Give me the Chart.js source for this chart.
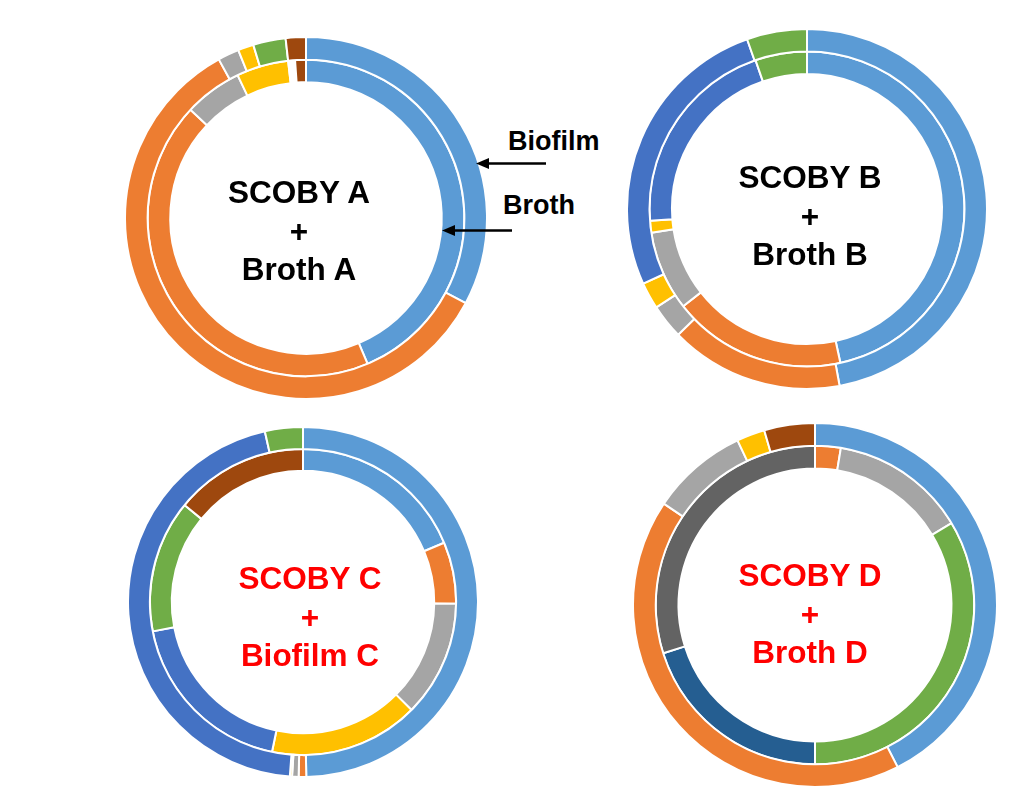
<!DOCTYPE html>
<html>
<head>
<meta charset="utf-8">
<script src="https://cdn.jsdelivr.net/npm/chart.js@4.4.0/dist/chart.umd.min.js"></script>
<style>
  html, body { margin: 0; padding: 0; background: #fff; }
  body { width: 1014px; height: 807px; position: relative; overflow: hidden; font-family: "Liberation Sans", Arial, sans-serif; }
  .anneau { position: absolute; }
  .centre { position: absolute; width: 240px; text-align: center; font-weight: bold; font-size: 31.5px; line-height: 38.5px; color: #000; }
  .rouge { color: #FF0000; }
  .tag { position: absolute; font-weight: bold; font-size: 27px; line-height: 27px; color: #000; white-space: nowrap; }
  svg { position: absolute; left: 0; top: 0; }
</style>
</head>
<body>

<div class="anneau" id="boxA"><canvas id="anneauA"></canvas></div>
<div class="anneau" id="boxB"><canvas id="anneauB"></canvas></div>
<div class="anneau" id="boxC"><canvas id="anneauC"></canvas></div>
<div class="anneau" id="boxD"><canvas id="anneauD"></canvas></div>

<div class="centre" style="left:179px; top:173px;">SCOBY A<br>+<br>Broth A</div>
<div class="centre" style="left:690px; top:158px;">SCOBY B<br>+<br>Broth B</div>
<div class="centre rouge" style="left:190px; top:559px;">SCOBY C<br>+<br>Biofilm C</div>
<div class="centre rouge" style="left:690px; top:556px;">SCOBY D<br>+<br>Broth D</div>

<div class="tag" style="left:508px; top:128px;">Biofilm</div>
<div class="tag" style="left:503px; top:192px;">Broth</div>

<svg width="1014" height="807">
  <line x1="546" y1="163.5" x2="486" y2="163.5" stroke="#000" stroke-width="2.5"/>
  <polygon points="476,163.5 489,158 489,169" fill="#000"/>
  <line x1="512" y1="230.5" x2="452" y2="230.5" stroke="#000" stroke-width="2.5"/>
  <polygon points="442,230.5 455,225 455,236" fill="#000"/>
</svg>

<script>
// Catégories (ordre des couleurs Office), "Non assigné" = vide sans remplissage
const taxons = ["Taxon 1", "Taxon 2", "Taxon 3", "Taxon 4", "Taxon 5", "Taxon 6", "Taxon 7", "Non assigné", "Taxon 8", "Taxon 9"];
const couleurs = ["#5B9BD5", "#ED7D31", "#A5A5A5", "#FFC000", "#4472C4", "#70AD47", "#255E91", "#FFFFFF", "#9E480E", "#636363"];

// Anneau extérieur = Biofilm, anneau intérieur = Broth (en %)
const outerA = [32.8, 59.2, 1.9, 1.4, 0, 2.9, 0, 0, 1.8, 0];
const innerA = [43.6, 43.3, 5.9, 5.3, 0, 0, 0, 0.7, 1.1, 0];
const outerB = [47.1, 15.6, 3.1, 2.4, 26.4, 5.4, 0, 0, 0, 0];
const innerB = [46.6, 17.8, 8.2, 1.2, 20.9, 5.3, 0, 0, 0, 0];
const outerC = [49.7, 0.7, 0.6, 0.2, 45.3, 3.5, 0, 0, 0, 0];
const innerC = [18.7, 6.5, 12.3, 15.8, 18.7, 14.0, 0, 0, 14.1, 0];
const outerD = [42.5, 41.9, 8.6, 2.5, 0, 0, 0, 0, 4.5, 0];
const innerD = [0, 2.6, 13.8, 0, 0, 33.6, 20.1, 0, 0, 29.9];

function afficherAnneau(id, cx, cy, r, exterieur, interieur) {
  const taille = 2 * r + 4;
  const box = document.querySelector("#box" + id);
  box.style.left = (cx - r - 2) + "px";
  box.style.top = (cy - r - 2) + "px";
  box.style.width = taille + "px";
  box.style.height = taille + "px";

  const data = {
    labels: taxons,
    datasets: [
      { label: "Biofilm", data: exterieur, backgroundColor: couleurs, borderColor: "#FFFFFF", borderWidth: 2 },
      { label: "Broth", data: interieur, backgroundColor: couleurs, borderColor: "#FFFFFF", borderWidth: 2 }
    ]
  };

  new Chart(document.querySelector("#anneau" + id), {
    type: "doughnut",
    data: data,
    options: {
      responsive: true,
      maintainAspectRatio: false,
      animation: false,
      cutout: "75%",
      layout: { padding: 0 },
      plugins: { legend: { display: false }, tooltip: { enabled: false } }
    }
  });
}

afficherAnneau("A", 306, 218, 180, outerA, innerA);
afficherAnneau("B", 806.5, 208.5, 179, outerB, innerB);
afficherAnneau("C", 302.5, 601.5, 174, outerC, innerC);
afficherAnneau("D", 815, 605, 181, outerD, innerD);
</script>
</body>
</html>
